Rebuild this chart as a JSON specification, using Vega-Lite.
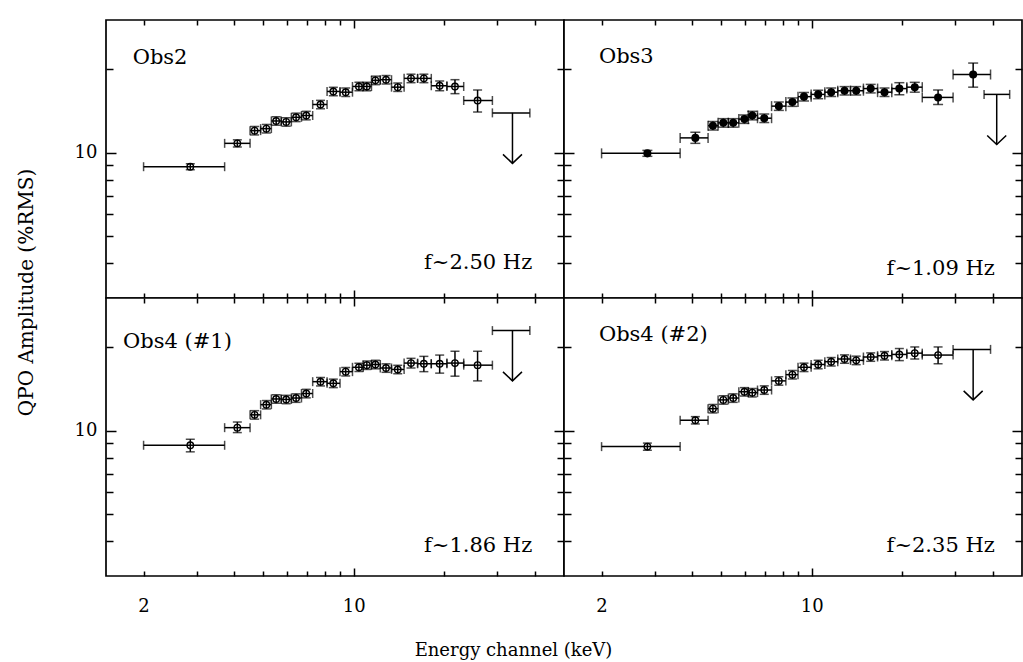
{
  "$schema": "https://vega.github.io/schema/vega-lite/v6.json",
  "background": "white",
  "padding": {"left": 15, "top": 18, "right": 0, "bottom": 0},
  "config": {
    "view": {"stroke": "black", "strokeWidth": 1.7, "fill": "white"},
    "rule": {"color": "black", "strokeWidth": 1.5},
    "tick": {"color": "black", "thickness": 1.5},
    "text": {"font": "DejaVu Serif", "color": "black", "fontSize": 21},
    "axis": {"grid": false, "domain": false, "tickColor": "black", "tickWidth": 1.5, "labelFont": "DejaVu Serif", "labelFontSize": 18, "labelColor": "black", "titleFont": "DejaVu Serif", "titleFontSize": 18, "titleFontWeight": "normal", "titleColor": "black", "labelOverlap": false, "labelFlush": false}
  },
  "datasets": {
    "obs2": [
      {"E": 2.86, "Elo": 2.0, "Ehi": 3.72, "A": 8.9, "Alo": 8.68, "Ahi": 9.12},
      {"E": 4.10, "Elo": 3.72, "Ehi": 4.52, "A": 10.8, "Alo": 10.48, "Ahi": 11.12},
      {"E": 4.68, "Elo": 4.52, "Ehi": 4.90, "A": 12.0, "Alo": 11.58, "Ahi": 12.42},
      {"E": 5.12, "Elo": 4.90, "Ehi": 5.32, "A": 12.2, "Alo": 11.77, "Ahi": 12.63},
      {"E": 5.52, "Elo": 5.32, "Ehi": 5.74, "A": 13.0, "Alo": 12.55, "Ahi": 13.46},
      {"E": 5.96, "Elo": 5.74, "Ehi": 6.20, "A": 12.9, "Alo": 12.45, "Ahi": 13.35},
      {"E": 6.43, "Elo": 6.20, "Ehi": 6.70, "A": 13.4, "Alo": 12.93, "Ahi": 13.87},
      {"E": 6.95, "Elo": 6.70, "Ehi": 7.30, "A": 13.6, "Alo": 13.12, "Ahi": 14.08},
      {"E": 7.75, "Elo": 7.30, "Ehi": 8.15, "A": 14.9, "Alo": 14.38, "Ahi": 15.42},
      {"E": 8.55, "Elo": 8.15, "Ehi": 9.00, "A": 16.6, "Alo": 16.02, "Ahi": 17.18},
      {"E": 9.40, "Elo": 9.00, "Ehi": 9.90, "A": 16.5, "Alo": 15.92, "Ahi": 17.08},
      {"E": 10.4, "Elo": 9.90, "Ehi": 10.75, "A": 17.3, "Alo": 16.69, "Ahi": 17.91},
      {"E": 11.05, "Elo": 10.75, "Ehi": 11.45, "A": 17.3, "Alo": 16.69, "Ahi": 17.91},
      {"E": 11.8, "Elo": 11.45, "Ehi": 12.25, "A": 18.2, "Alo": 17.56, "Ahi": 18.84},
      {"E": 12.8, "Elo": 12.25, "Ehi": 13.35, "A": 18.3, "Alo": 17.66, "Ahi": 18.94},
      {"E": 14.0, "Elo": 13.35, "Ehi": 14.7, "A": 17.2, "Alo": 16.6, "Ahi": 17.8},
      {"E": 15.5, "Elo": 14.7, "Ehi": 16.3, "A": 18.5, "Alo": 17.85, "Ahi": 19.15},
      {"E": 17.1, "Elo": 16.3, "Ehi": 18.1, "A": 18.5, "Alo": 17.85, "Ahi": 19.15},
      {"E": 19.3, "Elo": 18.1, "Ehi": 20.4, "A": 17.4, "Alo": 16.7, "Ahi": 18.1},
      {"E": 21.7, "Elo": 20.4, "Ehi": 23.2, "A": 17.3, "Alo": 16.3, "Ahi": 18.3},
      {"E": 25.8, "Elo": 23.2, "Ehi": 28.9, "A": 15.4, "Alo": 14.0, "Ahi": 16.8}
    ],
    "obs2_ul": [{"E": 33.7, "Elo": 28.9, "Ehi": 38.5, "A": 13.9, "Atip": 9.15}],
    "obs3": [
      {"E": 2.84, "Elo": 2.0, "Ehi": 3.65, "A": 9.94, "Alo": 9.7, "Ahi": 10.19},
      {"E": 4.10, "Elo": 3.65, "Ehi": 4.52, "A": 11.3, "Alo": 10.8, "Ahi": 11.84},
      {"E": 4.69, "Elo": 4.52, "Ehi": 4.88, "A": 12.5, "Alo": 12.06, "Ahi": 12.94},
      {"E": 5.08, "Elo": 4.88, "Ehi": 5.28, "A": 12.8, "Alo": 12.35, "Ahi": 13.25},
      {"E": 5.48, "Elo": 5.28, "Ehi": 5.72, "A": 12.8, "Alo": 12.35, "Ahi": 13.25},
      {"E": 5.97, "Elo": 5.72, "Ehi": 6.15, "A": 13.2, "Alo": 12.74, "Ahi": 13.66},
      {"E": 6.34, "Elo": 6.15, "Ehi": 6.6, "A": 13.6, "Alo": 13.12, "Ahi": 14.08},
      {"E": 6.95, "Elo": 6.6, "Ehi": 7.35, "A": 13.3, "Alo": 12.83, "Ahi": 13.77},
      {"E": 7.77, "Elo": 7.35, "Ehi": 8.2, "A": 14.7, "Alo": 14.19, "Ahi": 15.21},
      {"E": 8.62, "Elo": 8.2, "Ehi": 9.0, "A": 15.2, "Alo": 14.67, "Ahi": 15.73},
      {"E": 9.42, "Elo": 9.0, "Ehi": 9.95, "A": 15.9, "Alo": 15.34, "Ahi": 16.46},
      {"E": 10.5, "Elo": 9.95, "Ehi": 11.05, "A": 16.2, "Alo": 15.63, "Ahi": 16.77},
      {"E": 11.6, "Elo": 11.05, "Ehi": 12.2, "A": 16.5, "Alo": 15.92, "Ahi": 17.08},
      {"E": 12.85, "Elo": 12.2, "Ehi": 13.45, "A": 16.7, "Alo": 16.12, "Ahi": 17.28},
      {"E": 14.05, "Elo": 13.45, "Ehi": 14.85, "A": 16.7, "Alo": 16.12, "Ahi": 17.28},
      {"E": 15.7, "Elo": 14.85, "Ehi": 16.55, "A": 17.0, "Alo": 16.4, "Ahi": 17.6},
      {"E": 17.45, "Elo": 16.55, "Ehi": 18.45, "A": 16.5, "Alo": 15.92, "Ahi": 17.08},
      {"E": 19.55, "Elo": 18.45, "Ehi": 20.7, "A": 17.0, "Alo": 16.15, "Ahi": 17.85},
      {"E": 22.0, "Elo": 20.7, "Ehi": 23.3, "A": 17.2, "Alo": 16.5, "Ahi": 17.9},
      {"E": 26.3, "Elo": 23.3, "Ehi": 29.5, "A": 15.8, "Alo": 14.9, "Ahi": 16.8},
      {"E": 34.4, "Elo": 29.5, "Ehi": 39.3, "A": 19.1, "Alo": 17.2, "Ahi": 21.0}
    ],
    "obs3_ul": [{"E": 41.2, "Elo": 37.4, "Ehi": 45.5, "A": 16.2, "Atip": 10.7}],
    "obs41": [
      {"E": 2.86, "Elo": 2.0, "Ehi": 3.72, "A": 8.86, "Alo": 8.39, "Ahi": 9.31},
      {"E": 4.10, "Elo": 3.72, "Ehi": 4.52, "A": 10.25, "Alo": 9.84, "Ahi": 10.74},
      {"E": 4.68, "Elo": 4.52, "Ehi": 4.90, "A": 11.4, "Alo": 11.0, "Ahi": 11.8},
      {"E": 5.12, "Elo": 4.90, "Ehi": 5.32, "A": 12.4, "Alo": 11.97, "Ahi": 12.83},
      {"E": 5.52, "Elo": 5.32, "Ehi": 5.74, "A": 13.0, "Alo": 12.55, "Ahi": 13.46},
      {"E": 5.96, "Elo": 5.74, "Ehi": 6.20, "A": 12.95, "Alo": 12.5, "Ahi": 13.4},
      {"E": 6.43, "Elo": 6.20, "Ehi": 6.70, "A": 13.1, "Alo": 12.64, "Ahi": 13.56},
      {"E": 6.95, "Elo": 6.70, "Ehi": 7.30, "A": 13.6, "Alo": 13.12, "Ahi": 14.08},
      {"E": 7.75, "Elo": 7.30, "Ehi": 8.15, "A": 15.0, "Alo": 14.48, "Ahi": 15.53},
      {"E": 8.55, "Elo": 8.15, "Ehi": 9.00, "A": 14.8, "Alo": 14.28, "Ahi": 15.32},
      {"E": 9.40, "Elo": 9.00, "Ehi": 9.90, "A": 16.3, "Alo": 15.73, "Ahi": 16.87},
      {"E": 10.4, "Elo": 9.90, "Ehi": 10.75, "A": 16.9, "Alo": 16.31, "Ahi": 17.49},
      {"E": 11.05, "Elo": 10.75, "Ehi": 11.45, "A": 17.2, "Alo": 16.6, "Ahi": 17.8},
      {"E": 11.8, "Elo": 11.45, "Ehi": 12.25, "A": 17.3, "Alo": 16.69, "Ahi": 17.91},
      {"E": 12.8, "Elo": 12.25, "Ehi": 13.35, "A": 16.8, "Alo": 16.21, "Ahi": 17.39},
      {"E": 14.0, "Elo": 13.35, "Ehi": 14.7, "A": 16.6, "Alo": 16.02, "Ahi": 17.18},
      {"E": 15.5, "Elo": 14.7, "Ehi": 16.3, "A": 17.5, "Alo": 16.8, "Ahi": 18.2},
      {"E": 17.1, "Elo": 16.3, "Ehi": 18.1, "A": 17.4, "Alo": 16.3, "Ahi": 18.5},
      {"E": 19.3, "Elo": 18.1, "Ehi": 20.4, "A": 17.4, "Alo": 16.1, "Ahi": 18.7},
      {"E": 21.7, "Elo": 20.4, "Ehi": 23.2, "A": 17.5, "Alo": 15.7, "Ahi": 19.3},
      {"E": 25.8, "Elo": 23.2, "Ehi": 28.9, "A": 17.2, "Alo": 15.1, "Ahi": 19.3}
    ],
    "obs41_ul": [{"E": 33.7, "Elo": 28.9, "Ehi": 38.5, "A": 22.9, "Atip": 15.1}],
    "obs42": [
      {"E": 2.84, "Elo": 2.0, "Ehi": 3.65, "A": 8.76, "Alo": 8.5, "Ahi": 9.02},
      {"E": 4.10, "Elo": 3.65, "Ehi": 4.52, "A": 10.9, "Alo": 10.57, "Ahi": 11.23},
      {"E": 4.69, "Elo": 4.52, "Ehi": 4.88, "A": 12.0, "Alo": 11.58, "Ahi": 12.42},
      {"E": 5.08, "Elo": 4.88, "Ehi": 5.28, "A": 12.9, "Alo": 12.45, "Ahi": 13.35},
      {"E": 5.48, "Elo": 5.28, "Ehi": 5.72, "A": 13.1, "Alo": 12.64, "Ahi": 13.56},
      {"E": 5.97, "Elo": 5.72, "Ehi": 6.15, "A": 13.8, "Alo": 13.32, "Ahi": 14.28},
      {"E": 6.34, "Elo": 6.15, "Ehi": 6.6, "A": 13.7, "Alo": 13.22, "Ahi": 14.18},
      {"E": 6.95, "Elo": 6.6, "Ehi": 7.35, "A": 14.0, "Alo": 13.51, "Ahi": 14.49},
      {"E": 7.77, "Elo": 7.35, "Ehi": 8.2, "A": 15.1, "Alo": 14.57, "Ahi": 15.63},
      {"E": 8.62, "Elo": 8.2, "Ehi": 9.0, "A": 15.9, "Alo": 15.34, "Ahi": 16.46},
      {"E": 9.42, "Elo": 9.0, "Ehi": 9.95, "A": 16.9, "Alo": 16.31, "Ahi": 17.49},
      {"E": 10.5, "Elo": 9.95, "Ehi": 11.05, "A": 17.3, "Alo": 16.69, "Ahi": 17.91},
      {"E": 11.6, "Elo": 11.05, "Ehi": 12.2, "A": 17.7, "Alo": 17.08, "Ahi": 18.32},
      {"E": 12.85, "Elo": 12.2, "Ehi": 13.45, "A": 18.1, "Alo": 17.47, "Ahi": 18.73},
      {"E": 14.05, "Elo": 13.45, "Ehi": 14.85, "A": 17.9, "Alo": 17.27, "Ahi": 18.53},
      {"E": 15.7, "Elo": 14.85, "Ehi": 16.55, "A": 18.4, "Alo": 17.76, "Ahi": 19.04},
      {"E": 17.45, "Elo": 16.55, "Ehi": 18.45, "A": 18.6, "Alo": 17.95, "Ahi": 19.25},
      {"E": 19.55, "Elo": 18.45, "Ehi": 20.7, "A": 18.8, "Alo": 17.86, "Ahi": 19.74},
      {"E": 22.0, "Elo": 20.7, "Ehi": 23.3, "A": 19.0, "Alo": 18.1, "Ahi": 20.0},
      {"E": 26.3, "Elo": 23.3, "Ehi": 29.5, "A": 18.7, "Alo": 17.4, "Ahi": 20.0}
    ],
    "obs42_ul": [{"E": 34.4, "Elo": 29.5, "Ehi": 39.3, "A": 19.6, "Atip": 12.9}]
  },
  "columns": 2,
  "spacing": 0,
  "bounds": "flush",
  "concat": [
    {
      "width": 458, "height": 278,
      "layer": [
        {"data": {"name": "obs2"}, "mark": "rule",
         "encoding": {
           "x": {"field": "Elo", "type": "quantitative", "scale": {"type": "log", "domain": [1.5, 50], "nice": false},
                 "axis": {"orient": "bottom", "values": [2,3,4,5,6,7,8,9,10,20,30,40], "labels": false, "title": null, "tickSize": {"condition": {"test": "datum.value == 10", "value": -8}, "value": -5}}},
           "x2": {"field": "Ehi"},
           "y": {"field": "A", "type": "quantitative", "scale": {"type": "log", "domain": [3, 30], "nice": false},
                 "axis": {"orient": "left", "values": [4,5,6,7,8,9,10,20], "format": "d", "labelExpr": "datum.value == 10 ? datum.label : ''", "tickSize": {"condition": {"test": "datum.value == 10", "value": -10}, "value": -7}, "labelPadding": {"condition": {"test": "datum.value == 10", "value": 19}, "value": 16},
                          "title": "QPO Amplitude (%RMS)", "titleFontSize": 20, "titleX": -80, "titleY": 272, "titleAngle": -90, "titleBaseline": "middle", "titleAlign": "center"}}}},
        {"data": {"name": "obs2"}, "mark": "rule",
         "encoding": {
           "x": {"field": "E", "type": "quantitative", "scale": {"type": "log", "domain": [1.5, 50], "nice": false},
                 "axis": {"orient": "top", "values": [2,3,4,5,6,7,8,9,10,20,30,40], "labels": false, "title": null, "tickSize": {"condition": {"test": "datum.value == 10", "value": -8}, "value": -5}}},
           "y": {"field": "Alo", "type": "quantitative", "scale": {"type": "log", "domain": [3, 30], "nice": false},
                 "axis": {"orient": "right", "values": [4,5,6,7,8,9,10,20], "labels": false, "title": null, "tickSize": {"condition": {"test": "datum.value == 10", "value": -10}, "value": -7}}},
           "y2": {"field": "Ahi"}}},
        {"data": {"name": "obs2"}, "transform": [{"fold": ["Elo", "Ehi"], "as": ["k", "xc"]}], "mark": {"type": "tick", "orient": "vertical", "size": 9},
         "encoding": {"x": {"field": "xc", "type": "quantitative", "scale": {"type": "log", "domain": [1.5, 50], "nice": false}, "axis": null},
                      "y": {"field": "A", "type": "quantitative", "scale": {"type": "log", "domain": [3, 30], "nice": false}, "axis": null}}},
        {"data": {"name": "obs2"}, "transform": [{"fold": ["Alo", "Ahi"], "as": ["k", "yc"]}], "mark": {"type": "tick", "orient": "horizontal", "size": 9},
         "encoding": {"x": {"field": "E", "type": "quantitative", "scale": {"type": "log", "domain": [1.5, 50], "nice": false}, "axis": null},
                      "y": {"field": "yc", "type": "quantitative", "scale": {"type": "log", "domain": [3, 30], "nice": false}, "axis": null}}},
        {"data": {"name": "obs2"}, "mark": {"type": "point", "shape": "circle", "size": 42, "filled": false, "color": "black", "strokeWidth": 1.4, "opacity": 1},
         "encoding": {"x": {"field": "E", "type": "quantitative", "scale": {"type": "log", "domain": [1.5, 50], "nice": false}, "axis": null},
                      "y": {"field": "A", "type": "quantitative", "scale": {"type": "log", "domain": [3, 30], "nice": false}, "axis": null}}},
        {"data": {"name": "obs2_ul"}, "mark": "rule",
         "encoding": {"x": {"field": "Elo", "type": "quantitative", "scale": {"type": "log", "domain": [1.5, 50], "nice": false}, "axis": null}, "x2": {"field": "Ehi"},
                      "y": {"field": "A", "type": "quantitative", "scale": {"type": "log", "domain": [3, 30], "nice": false}, "axis": null}}},
        {"data": {"name": "obs2_ul"}, "transform": [{"fold": ["Elo", "Ehi"], "as": ["k", "xc"]}], "mark": {"type": "tick", "orient": "vertical", "size": 9},
         "encoding": {"x": {"field": "xc", "type": "quantitative", "scale": {"type": "log", "domain": [1.5, 50], "nice": false}, "axis": null},
                      "y": {"field": "A", "type": "quantitative", "scale": {"type": "log", "domain": [3, 30], "nice": false}, "axis": null}}},
        {"data": {"name": "obs2_ul"}, "mark": "rule",
         "encoding": {"x": {"field": "E", "type": "quantitative", "scale": {"type": "log", "domain": [1.5, 50], "nice": false}, "axis": null},
                      "y": {"field": "A", "type": "quantitative", "scale": {"type": "log", "domain": [3, 30], "nice": false}, "axis": null}, "y2": {"field": "Atip"}}},
        {"data": {"name": "obs2_ul"}, "mark": {"type": "point", "shape": "M-1,-0.95L0,0L1,-0.95", "size": 361, "filled": false, "color": "black", "strokeWidth": 1.5, "opacity": 1},
         "encoding": {"x": {"field": "E", "type": "quantitative", "scale": {"type": "log", "domain": [1.5, 50], "nice": false}, "axis": null},
                      "y": {"field": "Atip", "type": "quantitative", "scale": {"type": "log", "domain": [3, 30], "nice": false}, "axis": null}}},
        {"data": {"values": [{}]}, "mark": {"type": "text", "text": "Obs2", "align": "left", "baseline": "alphabetic"},
         "encoding": {"x": {"datum": 1.84, "type": "quantitative", "scale": {"type": "log", "domain": [1.5, 50], "nice": false}, "axis": null},
                      "y": {"datum": 20.8, "type": "quantitative", "scale": {"type": "log", "domain": [3, 30], "nice": false}, "axis": null}}},
        {"data": {"values": [{}]}, "mark": {"type": "text", "text": "f~2.50 Hz", "align": "right", "baseline": "alphabetic"},
         "encoding": {"x": {"datum": 39.2, "type": "quantitative", "scale": {"type": "log", "domain": [1.5, 50], "nice": false}, "axis": null},
                      "y": {"datum": 3.82, "type": "quantitative", "scale": {"type": "log", "domain": [3, 30], "nice": false}, "axis": null}}}
      ]
    },
    {
      "width": 458, "height": 278,
      "layer": [
        {"data": {"name": "obs3"}, "mark": "rule",
         "encoding": {
           "x": {"field": "Elo", "type": "quantitative", "scale": {"type": "log", "domain": [1.5, 50], "nice": false},
                 "axis": {"orient": "bottom", "values": [2,3,4,5,6,7,8,9,10,20,30,40], "labels": false, "title": null, "tickSize": {"condition": {"test": "datum.value == 10", "value": -8}, "value": -5}}},
           "x2": {"field": "Ehi"},
           "y": {"field": "A", "type": "quantitative", "scale": {"type": "log", "domain": [3, 30], "nice": false},
                 "axis": {"orient": "left", "values": [4,5,6,7,8,9,10,20], "labels": false, "title": null, "tickSize": {"condition": {"test": "datum.value == 10", "value": -10}, "value": -7}}}}},
        {"data": {"name": "obs3"}, "mark": "rule",
         "encoding": {
           "x": {"field": "E", "type": "quantitative", "scale": {"type": "log", "domain": [1.5, 50], "nice": false},
                 "axis": {"orient": "top", "values": [2,3,4,5,6,7,8,9,10,20,30,40], "labels": false, "title": null, "tickSize": {"condition": {"test": "datum.value == 10", "value": -8}, "value": -5}}},
           "y": {"field": "Alo", "type": "quantitative", "scale": {"type": "log", "domain": [3, 30], "nice": false},
                 "axis": {"orient": "right", "values": [4,5,6,7,8,9,10,20], "labels": false, "title": null, "tickSize": {"condition": {"test": "datum.value == 10", "value": -10}, "value": -7}}},
           "y2": {"field": "Ahi"}}},
        {"data": {"name": "obs3"}, "transform": [{"fold": ["Elo", "Ehi"], "as": ["k", "xc"]}], "mark": {"type": "tick", "orient": "vertical", "size": 10},
         "encoding": {"x": {"field": "xc", "type": "quantitative", "scale": {"type": "log", "domain": [1.5, 50], "nice": false}, "axis": null},
                      "y": {"field": "A", "type": "quantitative", "scale": {"type": "log", "domain": [3, 30], "nice": false}, "axis": null}}},
        {"data": {"name": "obs3"}, "transform": [{"fold": ["Alo", "Ahi"], "as": ["k", "yc"]}], "mark": {"type": "tick", "orient": "horizontal", "size": 10},
         "encoding": {"x": {"field": "E", "type": "quantitative", "scale": {"type": "log", "domain": [1.5, 50], "nice": false}, "axis": null},
                      "y": {"field": "yc", "type": "quantitative", "scale": {"type": "log", "domain": [3, 30], "nice": false}, "axis": null}}},
        {"data": {"name": "obs3"}, "mark": {"type": "point", "shape": "circle", "size": 65, "filled": true, "color": "black", "opacity": 1},
         "encoding": {"x": {"field": "E", "type": "quantitative", "scale": {"type": "log", "domain": [1.5, 50], "nice": false}, "axis": null},
                      "y": {"field": "A", "type": "quantitative", "scale": {"type": "log", "domain": [3, 30], "nice": false}, "axis": null}}},
        {"data": {"name": "obs3_ul"}, "mark": "rule",
         "encoding": {"x": {"field": "Elo", "type": "quantitative", "scale": {"type": "log", "domain": [1.5, 50], "nice": false}, "axis": null}, "x2": {"field": "Ehi"},
                      "y": {"field": "A", "type": "quantitative", "scale": {"type": "log", "domain": [3, 30], "nice": false}, "axis": null}}},
        {"data": {"name": "obs3_ul"}, "transform": [{"fold": ["Elo", "Ehi"], "as": ["k", "xc"]}], "mark": {"type": "tick", "orient": "vertical", "size": 9},
         "encoding": {"x": {"field": "xc", "type": "quantitative", "scale": {"type": "log", "domain": [1.5, 50], "nice": false}, "axis": null},
                      "y": {"field": "A", "type": "quantitative", "scale": {"type": "log", "domain": [3, 30], "nice": false}, "axis": null}}},
        {"data": {"name": "obs3_ul"}, "mark": "rule",
         "encoding": {"x": {"field": "E", "type": "quantitative", "scale": {"type": "log", "domain": [1.5, 50], "nice": false}, "axis": null},
                      "y": {"field": "A", "type": "quantitative", "scale": {"type": "log", "domain": [3, 30], "nice": false}, "axis": null}, "y2": {"field": "Atip"}}},
        {"data": {"name": "obs3_ul"}, "mark": {"type": "point", "shape": "M-1,-0.95L0,0L1,-0.95", "size": 361, "filled": false, "color": "black", "strokeWidth": 1.5, "opacity": 1},
         "encoding": {"x": {"field": "E", "type": "quantitative", "scale": {"type": "log", "domain": [1.5, 50], "nice": false}, "axis": null},
                      "y": {"field": "Atip", "type": "quantitative", "scale": {"type": "log", "domain": [3, 30], "nice": false}, "axis": null}}},
        {"data": {"values": [{}]}, "mark": {"type": "text", "text": "Obs3", "align": "left", "baseline": "alphabetic"},
         "encoding": {"x": {"datum": 1.96, "type": "quantitative", "scale": {"type": "log", "domain": [1.5, 50], "nice": false}, "axis": null},
                      "y": {"datum": 21.0, "type": "quantitative", "scale": {"type": "log", "domain": [3, 30], "nice": false}, "axis": null}}},
        {"data": {"values": [{}]}, "mark": {"type": "text", "text": "f~1.09 Hz", "align": "right", "baseline": "alphabetic"},
         "encoding": {"x": {"datum": 40.6, "type": "quantitative", "scale": {"type": "log", "domain": [1.5, 50], "nice": false}, "axis": null},
                      "y": {"datum": 3.62, "type": "quantitative", "scale": {"type": "log", "domain": [3, 30], "nice": false}, "axis": null}}}
      ]
    },
    {
      "width": 458, "height": 278,
      "layer": [
        {"data": {"name": "obs41"}, "mark": "rule",
         "encoding": {
           "x": {"field": "Elo", "type": "quantitative", "scale": {"type": "log", "domain": [1.5, 50], "nice": false},
                 "axis": {"orient": "bottom", "values": [2,3,4,5,6,7,8,9,10,20,30,40], "format": "d", "labelExpr": "datum.value == 2 || datum.value == 10 ? datum.label : ''", "tickSize": {"condition": {"test": "datum.value == 10", "value": -8}, "value": -5}, "labelPadding": {"condition": {"test": "datum.value == 10", "value": 29}, "value": 26},
                          "title": "Energy channel (keV)", "titleX": 407, "titleY": 79, "titleBaseline": "alphabetic"}},
           "x2": {"field": "Ehi"},
           "y": {"field": "A", "type": "quantitative", "scale": {"type": "log", "domain": [3, 30], "nice": false},
                 "axis": {"orient": "left", "values": [4,5,6,7,8,9,10,20], "format": "d", "labelExpr": "datum.value == 10 ? datum.label : ''", "tickSize": {"condition": {"test": "datum.value == 10", "value": -10}, "value": -7}, "labelPadding": {"condition": {"test": "datum.value == 10", "value": 19}, "value": 16}, "title": null}}}},
        {"data": {"name": "obs41"}, "mark": "rule",
         "encoding": {
           "x": {"field": "E", "type": "quantitative", "scale": {"type": "log", "domain": [1.5, 50], "nice": false},
                 "axis": {"orient": "top", "values": [2,3,4,5,6,7,8,9,10,20,30,40], "labels": false, "title": null, "tickSize": {"condition": {"test": "datum.value == 10", "value": -8}, "value": -5}}},
           "y": {"field": "Alo", "type": "quantitative", "scale": {"type": "log", "domain": [3, 30], "nice": false},
                 "axis": {"orient": "right", "values": [4,5,6,7,8,9,10,20], "labels": false, "title": null, "tickSize": {"condition": {"test": "datum.value == 10", "value": -10}, "value": -7}}},
           "y2": {"field": "Ahi"}}},
        {"data": {"name": "obs41"}, "transform": [{"fold": ["Elo", "Ehi"], "as": ["k", "xc"]}], "mark": {"type": "tick", "orient": "vertical", "size": 9},
         "encoding": {"x": {"field": "xc", "type": "quantitative", "scale": {"type": "log", "domain": [1.5, 50], "nice": false}, "axis": null},
                      "y": {"field": "A", "type": "quantitative", "scale": {"type": "log", "domain": [3, 30], "nice": false}, "axis": null}}},
        {"data": {"name": "obs41"}, "transform": [{"fold": ["Alo", "Ahi"], "as": ["k", "yc"]}], "mark": {"type": "tick", "orient": "horizontal", "size": 9},
         "encoding": {"x": {"field": "E", "type": "quantitative", "scale": {"type": "log", "domain": [1.5, 50], "nice": false}, "axis": null},
                      "y": {"field": "yc", "type": "quantitative", "scale": {"type": "log", "domain": [3, 30], "nice": false}, "axis": null}}},
        {"data": {"name": "obs41"}, "mark": {"type": "point", "shape": "circle", "size": 42, "filled": false, "color": "black", "strokeWidth": 1.4, "opacity": 1},
         "encoding": {"x": {"field": "E", "type": "quantitative", "scale": {"type": "log", "domain": [1.5, 50], "nice": false}, "axis": null},
                      "y": {"field": "A", "type": "quantitative", "scale": {"type": "log", "domain": [3, 30], "nice": false}, "axis": null}}},
        {"data": {"name": "obs41_ul"}, "mark": "rule",
         "encoding": {"x": {"field": "Elo", "type": "quantitative", "scale": {"type": "log", "domain": [1.5, 50], "nice": false}, "axis": null}, "x2": {"field": "Ehi"},
                      "y": {"field": "A", "type": "quantitative", "scale": {"type": "log", "domain": [3, 30], "nice": false}, "axis": null}}},
        {"data": {"name": "obs41_ul"}, "transform": [{"fold": ["Elo", "Ehi"], "as": ["k", "xc"]}], "mark": {"type": "tick", "orient": "vertical", "size": 9},
         "encoding": {"x": {"field": "xc", "type": "quantitative", "scale": {"type": "log", "domain": [1.5, 50], "nice": false}, "axis": null},
                      "y": {"field": "A", "type": "quantitative", "scale": {"type": "log", "domain": [3, 30], "nice": false}, "axis": null}}},
        {"data": {"name": "obs41_ul"}, "mark": "rule",
         "encoding": {"x": {"field": "E", "type": "quantitative", "scale": {"type": "log", "domain": [1.5, 50], "nice": false}, "axis": null},
                      "y": {"field": "A", "type": "quantitative", "scale": {"type": "log", "domain": [3, 30], "nice": false}, "axis": null}, "y2": {"field": "Atip"}}},
        {"data": {"name": "obs41_ul"}, "mark": {"type": "point", "shape": "M-1,-0.95L0,0L1,-0.95", "size": 361, "filled": false, "color": "black", "strokeWidth": 1.5, "opacity": 1},
         "encoding": {"x": {"field": "E", "type": "quantitative", "scale": {"type": "log", "domain": [1.5, 50], "nice": false}, "axis": null},
                      "y": {"field": "Atip", "type": "quantitative", "scale": {"type": "log", "domain": [3, 30], "nice": false}, "axis": null}}},
        {"data": {"values": [{}]}, "mark": {"type": "text", "text": "Obs4 (#1)", "align": "left", "baseline": "alphabetic"},
         "encoding": {"x": {"datum": 1.71, "type": "quantitative", "scale": {"type": "log", "domain": [1.5, 50], "nice": false}, "axis": null},
                      "y": {"datum": 19.8, "type": "quantitative", "scale": {"type": "log", "domain": [3, 30], "nice": false}, "axis": null}}},
        {"data": {"values": [{}]}, "mark": {"type": "text", "text": "f~1.86 Hz", "align": "right", "baseline": "alphabetic"},
         "encoding": {"x": {"datum": 39.2, "type": "quantitative", "scale": {"type": "log", "domain": [1.5, 50], "nice": false}, "axis": null},
                      "y": {"datum": 3.65, "type": "quantitative", "scale": {"type": "log", "domain": [3, 30], "nice": false}, "axis": null}}}
      ]
    },
    {
      "width": 458, "height": 278,
      "layer": [
        {"data": {"name": "obs42"}, "mark": "rule",
         "encoding": {
           "x": {"field": "Elo", "type": "quantitative", "scale": {"type": "log", "domain": [1.5, 50], "nice": false},
                 "axis": {"orient": "bottom", "values": [2,3,4,5,6,7,8,9,10,20,30,40], "format": "d", "labelExpr": "datum.value == 2 || datum.value == 10 ? datum.label : ''", "tickSize": {"condition": {"test": "datum.value == 10", "value": -8}, "value": -5}, "labelPadding": {"condition": {"test": "datum.value == 10", "value": 29}, "value": 26}, "title": null}},
           "x2": {"field": "Ehi"},
           "y": {"field": "A", "type": "quantitative", "scale": {"type": "log", "domain": [3, 30], "nice": false},
                 "axis": {"orient": "left", "values": [4,5,6,7,8,9,10,20], "labels": false, "title": null, "tickSize": {"condition": {"test": "datum.value == 10", "value": -10}, "value": -7}}}}},
        {"data": {"name": "obs42"}, "mark": "rule",
         "encoding": {
           "x": {"field": "E", "type": "quantitative", "scale": {"type": "log", "domain": [1.5, 50], "nice": false},
                 "axis": {"orient": "top", "values": [2,3,4,5,6,7,8,9,10,20,30,40], "labels": false, "title": null, "tickSize": {"condition": {"test": "datum.value == 10", "value": -8}, "value": -5}}},
           "y": {"field": "Alo", "type": "quantitative", "scale": {"type": "log", "domain": [3, 30], "nice": false},
                 "axis": {"orient": "right", "values": [4,5,6,7,8,9,10,20], "labels": false, "title": null, "tickSize": {"condition": {"test": "datum.value == 10", "value": -10}, "value": -7}}},
           "y2": {"field": "Ahi"}}},
        {"data": {"name": "obs42"}, "transform": [{"fold": ["Elo", "Ehi"], "as": ["k", "xc"]}], "mark": {"type": "tick", "orient": "vertical", "size": 9},
         "encoding": {"x": {"field": "xc", "type": "quantitative", "scale": {"type": "log", "domain": [1.5, 50], "nice": false}, "axis": null},
                      "y": {"field": "A", "type": "quantitative", "scale": {"type": "log", "domain": [3, 30], "nice": false}, "axis": null}}},
        {"data": {"name": "obs42"}, "transform": [{"fold": ["Alo", "Ahi"], "as": ["k", "yc"]}], "mark": {"type": "tick", "orient": "horizontal", "size": 9},
         "encoding": {"x": {"field": "E", "type": "quantitative", "scale": {"type": "log", "domain": [1.5, 50], "nice": false}, "axis": null},
                      "y": {"field": "yc", "type": "quantitative", "scale": {"type": "log", "domain": [3, 30], "nice": false}, "axis": null}}},
        {"data": {"name": "obs42"}, "mark": {"type": "point", "shape": "circle", "size": 42, "filled": false, "color": "black", "strokeWidth": 1.4, "opacity": 1},
         "encoding": {"x": {"field": "E", "type": "quantitative", "scale": {"type": "log", "domain": [1.5, 50], "nice": false}, "axis": null},
                      "y": {"field": "A", "type": "quantitative", "scale": {"type": "log", "domain": [3, 30], "nice": false}, "axis": null}}},
        {"data": {"name": "obs42_ul"}, "mark": "rule",
         "encoding": {"x": {"field": "Elo", "type": "quantitative", "scale": {"type": "log", "domain": [1.5, 50], "nice": false}, "axis": null}, "x2": {"field": "Ehi"},
                      "y": {"field": "A", "type": "quantitative", "scale": {"type": "log", "domain": [3, 30], "nice": false}, "axis": null}}},
        {"data": {"name": "obs42_ul"}, "transform": [{"fold": ["Elo", "Ehi"], "as": ["k", "xc"]}], "mark": {"type": "tick", "orient": "vertical", "size": 9},
         "encoding": {"x": {"field": "xc", "type": "quantitative", "scale": {"type": "log", "domain": [1.5, 50], "nice": false}, "axis": null},
                      "y": {"field": "A", "type": "quantitative", "scale": {"type": "log", "domain": [3, 30], "nice": false}, "axis": null}}},
        {"data": {"name": "obs42_ul"}, "mark": "rule",
         "encoding": {"x": {"field": "E", "type": "quantitative", "scale": {"type": "log", "domain": [1.5, 50], "nice": false}, "axis": null},
                      "y": {"field": "A", "type": "quantitative", "scale": {"type": "log", "domain": [3, 30], "nice": false}, "axis": null}, "y2": {"field": "Atip"}}},
        {"data": {"name": "obs42_ul"}, "mark": {"type": "point", "shape": "M-1,-0.95L0,0L1,-0.95", "size": 361, "filled": false, "color": "black", "strokeWidth": 1.5, "opacity": 1},
         "encoding": {"x": {"field": "E", "type": "quantitative", "scale": {"type": "log", "domain": [1.5, 50], "nice": false}, "axis": null},
                      "y": {"field": "Atip", "type": "quantitative", "scale": {"type": "log", "domain": [3, 30], "nice": false}, "axis": null}}},
        {"data": {"values": [{}]}, "mark": {"type": "text", "text": "Obs4 (#2)", "align": "left", "baseline": "alphabetic"},
         "encoding": {"x": {"datum": 1.96, "type": "quantitative", "scale": {"type": "log", "domain": [1.5, 50], "nice": false}, "axis": null},
                      "y": {"datum": 21.0, "type": "quantitative", "scale": {"type": "log", "domain": [3, 30], "nice": false}, "axis": null}}},
        {"data": {"values": [{}]}, "mark": {"type": "text", "text": "f~2.35 Hz", "align": "right", "baseline": "alphabetic"},
         "encoding": {"x": {"datum": 40.6, "type": "quantitative", "scale": {"type": "log", "domain": [1.5, 50], "nice": false}, "axis": null},
                      "y": {"datum": 3.65, "type": "quantitative", "scale": {"type": "log", "domain": [3, 30], "nice": false}, "axis": null}}}
      ]
    }
  ]
}
